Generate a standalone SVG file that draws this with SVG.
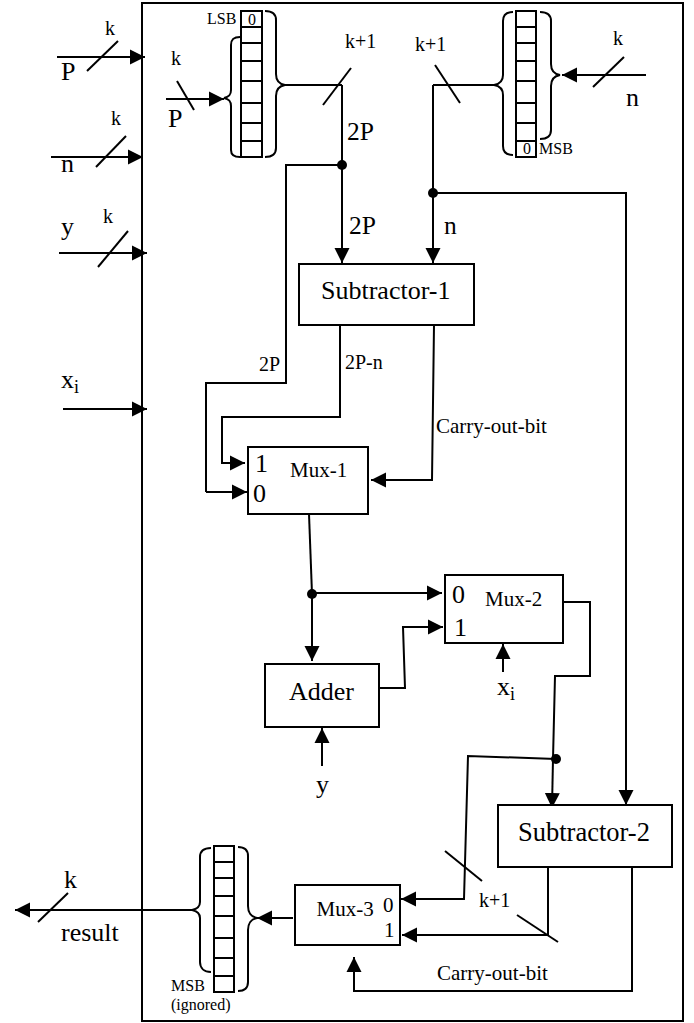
<svg xmlns="http://www.w3.org/2000/svg" width="694" height="1023" viewBox="0 0 694 1023">
<style>
text{font-family:"Liberation Serif","Times New Roman",serif;fill:#000}
.b{fill:#fff;stroke:#000;stroke-width:2}
.l{fill:none;stroke:#000;stroke-width:2}
.a{marker-end:url(#arr)}
.t27{font-size:26.5px}.t26{font-size:26px}.t25{font-size:25.5px}.t21{font-size:21px}.t20{font-size:20px}.t16{font-size:16px}
</style>
<defs>
<marker id="arr" markerUnits="userSpaceOnUse" markerWidth="16" markerHeight="16" refX="15" refY="8" orient="auto"><path d="M0 .5L15 8L0 15.5Z" fill="#000"/></marker>
</defs>
<rect width="694" height="1023" fill="#fff"/>
<rect id="frame" x="142" y="3" width="541" height="1018" fill="none" stroke="#000" stroke-width="2"/>
<g id="mux-3"><rect class="b" x="295" y="885" width="105" height="60"/><text class="t21" x="316.5" y="916">Mux-3</text><text class="t21" x="383" y="912">0</text><text class="t21" x="384" y="937">1</text></g>
<g id="connectors">
<path class="l a" d="M57 57H145"/><path class="l" d="M87 71L118 41"/>
<path class="l a" d="M51 157H143"/><path class="l" d="M96 167L126 136"/>
<path class="l a" d="M59 253H147"/><path class="l" d="M98 267L128 231"/>
<path class="l a" d="M63 409H147"/>
<path class="l a" d="M166 99H224"/><path class="l" d="M177 81L194 110"/>
<path class="l" d="M285 85H342"/><path class="l" d="M323 105L351 68"/>
<path class="l a" d="M342 85V263"/>
<path class="l" d="M342 165H286V383H206V492"/><path class="l a" d="M206 492H247"/>
<path class="l" d="M433 85H494"/><path class="l" d="M435 65L460 103"/>
<path class="l a" d="M433 85V263"/>
<path class="l a" d="M646 75H562"/><path class="l" d="M593 87L624 57"/>
<path class="l a" d="M433 193H626V805"/>
<path class="l a" d="M340 325V417H222V463H245"/>
<path class="l a" d="M434 325L432 480H371"/>
<path class="l" d="M309 514L312 594"/>
<path class="l a" d="M312 594V661"/>
<path class="l a" d="M312 593H442"/>
<path class="l a" d="M378 688H405L403 627H443"/>
<path class="l a" d="M322 766V728"/>
<path class="l a" d="M503 672V644"/>
<path class="l" d="M564 602H590V676H555L553 759"/>
<path class="l a" d="M553 759L552 808"/>
<path class="l a" d="M556 759L468 756L464 899H401"/>
<path class="l" d="M445 851L482 881"/>
<path class="l" d="M548 867V935"/>
<path class="l a" d="M548 935H402"/>
<path class="l" d="M517 915L558 942"/>
<path class="l" d="M632 867V991H354"/>
<path class="l a" d="M354 992V957"/>
<path class="l a" d="M293 918H257"/>
<path class="l a" d="M192 910H15"/>
<path class="l" d="M38 922L68 893"/>
<circle cx="342" cy="165" r="5"/>
<circle cx="433" cy="193" r="5"/>
<circle cx="312" cy="594" r="5"/>
<circle cx="556" cy="759" r="5"/>
</g>
<g id="reg-top-left">
<path class="l" d="M241 11H262V157H241ZM241 27H262M241 43H262M241 61H262M241 81H262M241 103H262M241 123H262M241 141H262"/>
<path class="l" d="M240 37C234 37 231 39 231 45V90C231 95 229 97 224 98C229 99 231 101 231 106V150C231 155 234 157 240 157"/>
<path class="l" d="M265 11C272 11 276 14 276 20V74C276 80 279 84 285 85C279 86 276 90 276 96V148C276 154 272 157 265 157"/>
<text class="t16" x="207" y="24">LSB</text><text class="t16" x="248" y="25">0</text>
</g>
<g id="reg-top-right">
<path class="l" d="M516 11H536V157H516ZM516 27H536M516 43H536M516 61H536M516 81H536M516 103H536M516 123H536M516 141H536"/>
<path class="l" d="M513 12C506 12 503 15 503 21V75C503 80 500 84 494 85C500 86 503 90 503 95V146C503 152 506 155 513 155"/>
<path class="l" d="M540 12C547 12 551 15 551 21V64C551 70 554 74 560 75C554 76 551 80 551 86V130C551 136 547 139 540 139"/>
<text class="t16" x="523" y="154">0</text><text class="t16" x="539" y="154">MSB</text>
</g>
<g id="reg-bottom">
<path class="l" d="M214 846H234V992H214ZM214 862H234M214 878H234M214 896H234M214 916H234M214 938H234M214 958H234M214 976H234"/>
<path class="l" d="M211 848C204 848 200 851 200 857V902C200 906 197 909 192 910C197 911 200 914 200 918V962C200 968 204 972 211 972"/>
<path class="l" d="M238 847C245 847 248 850 248 856V906C248 912 251 917 257 918C251 919 248 924 248 930V982C248 988 245 991 238 991"/>
<text class="t16" x="171" y="991">MSB</text><text class="t16" x="171" y="1010">(ignored)</text>
</g>
<g id="subtractor-1"><rect class="b" x="299" y="264" width="175" height="61"/><text class="t26" x="321" y="299">Subtractor-1</text></g>
<g id="mux-1"><rect class="b" x="248" y="447" width="120" height="67"/><text class="t26" x="255" y="472">1</text><text class="t26" x="253" y="502">0</text><text class="t21" x="290" y="477">Mux-1</text></g>
<g id="mux-2"><rect class="b" x="445" y="575" width="118" height="68"/><text class="t26" x="452" y="603">0</text><text class="t26" x="454" y="636">1</text><text class="t21" x="485" y="606">Mux-2</text></g>
<g id="adder"><rect class="b" x="265" y="664" width="114" height="63"/><text class="t26" x="289" y="700">Adder</text></g>
<g id="subtractor-2"><rect class="b" x="498" y="805" width="174" height="62"/><text class="t27" x="518" y="841">Subtractor-2</text></g>
<g id="labels">
<text class="t20" x="105" y="35">k</text><text class="t26" x="61" y="80">P</text>
<text class="t20" x="111" y="125">k</text><text class="t26" x="61" y="172">n</text>
<text class="t20" x="103" y="223">k</text><text class="t26" x="61" y="235">y</text>
<text class="t26" x="61" y="388">x<tspan font-size="18" dy="5">i</tspan></text>
<text class="t20" x="171" y="65">k</text><text class="t26" x="168" y="127">P</text>
<text class="t20" x="345" y="48">k+1</text><text class="t20" x="415" y="51">k+1</text>
<text class="t20" x="613" y="45">k</text><text class="t26" x="626" y="106">n</text>
<text class="t25" x="347" y="140">2P</text><text class="t25" x="349" y="234">2P</text>
<text class="t25" x="444" y="234">n</text>
<text class="t20" x="259" y="371">2P</text><text class="t20" x="345" y="369">2P-n</text>
<text class="t21" x="436" y="433">Carry-out-bit</text>
<text class="t26" x="497" y="695">x<tspan font-size="18" dy="5">i</tspan></text>
<text class="t26" x="316" y="793">y</text>
<text class="t20" x="479" y="907">k+1</text>
<text class="t21" x="437" y="980">Carry-out-bit</text>
<text class="t26" x="64" y="888">k</text><text class="t26" x="61" y="941">result</text>
</g>
</svg>
